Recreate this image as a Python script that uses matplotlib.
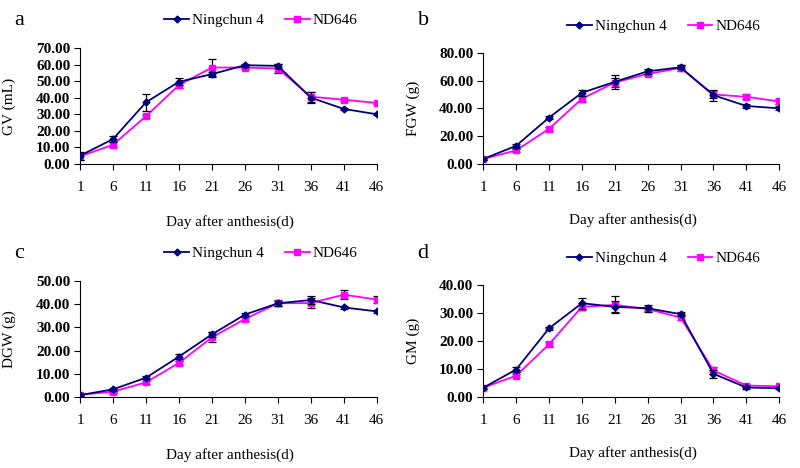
# grain traits after anthesis, 4 panels

import matplotlib.pyplot as plt
from matplotlib.lines import Line2D
import numpy as np

plt.rcParams['font.family'] = ['Liberation Serif', 'DejaVu Serif']
plt.rcParams['font.size'] = 11

days = ["1", "6", "11", "16", "21", "26", "31", "36", "41", "46"]

# a: GV (mL)
gv_ning = [5.0, 15.0, 37.2, 49.6, 54.2, 59.6, 59.2, 40.0, 33.2, 30.0]
gv_nd = [4.6, 11.6, 28.8, 47.6, 58.2, 58.2, 57.6, 40.6, 38.8, 36.8]
gv_ning_err = [2.5, 2.0, 5.0, 2.0, 1.5, 1.0, 1.0, 3.5, 0.8, 0.5]
gv_nd_err = [2.0, 1.5, 1.0, 1.5, 5.0, 1.0, 2.5, 3.0, 0.5, 0.5]

# b: FGW (g)
fgw_ning = [3.6, 13.1, 33.4, 51.3, 59.2, 66.8, 69.7, 49.6, 41.8, 40.1]
fgw_nd = [3.6, 9.8, 25.3, 47.0, 58.7, 64.9, 69.2, 50.1, 48.4, 45.1]
fgw_ning_err = [0.8, 1.5, 1.0, 2.0, 5.0, 1.8, 1.5, 4.0, 1.2, 1.5]
fgw_nd_err = [0.8, 1.2, 1.2, 2.0, 3.0, 1.2, 2.0, 2.5, 1.8, 2.0]

# c: DGW (g)
dgw_ning = [0.8, 3.3, 8.3, 17.4, 27.0, 35.5, 40.4, 41.8, 38.6, 36.9]
dgw_nd = [1.0, 2.3, 6.3, 14.7, 25.7, 33.6, 40.4, 40.5, 44.1, 42.0]
dgw_ning_err = [0.3, 0.5, 0.6, 1.0, 1.2, 0.6, 1.0, 1.8, 0.8, 0.5]
dgw_nd_err = [0.3, 0.5, 0.6, 0.8, 2.2, 0.8, 1.2, 2.0, 1.9, 1.5]

# d: GM (g)
gm_ning = [3.3, 9.8, 24.5, 33.5, 32.2, 31.7, 29.6, 8.3, 3.4, 3.1]
gm_nd = [3.3, 7.6, 18.8, 32.2, 32.9, 31.4, 28.4, 9.5, 4.1, 3.8]
gm_ning_err = [0.5, 1.0, 0.6, 2.0, 2.0, 1.2, 0.6, 1.5, 0.4, 0.3]
gm_nd_err = [0.5, 0.6, 1.0, 1.2, 3.0, 0.8, 0.8, 1.2, 0.4, 0.3]

panels = [
    ("a", "GV (mL)", gv_ning, gv_ning_err, gv_nd, gv_nd_err, 70, 10, [0.100, 0.6496, 0.371, 0.2479]),
    ("b", "FGW (g)", fgw_ning, fgw_ning_err, fgw_nd, fgw_nd_err, 80, 20, [0.604, 0.6496, 0.370, 0.2372]),
    ("c", "DGW (g)", dgw_ning, dgw_ning_err, dgw_nd, dgw_nd_err, 50, 10, [0.100, 0.1517, 0.371, 0.2479]),
    ("d", "GM (g)", gm_ning, gm_ning_err, gm_nd, gm_nd_err, 40, 10, [0.604, 0.1517, 0.370, 0.2393]),
]

navy = "#000080"
pink = "#FF00FF"

fig = plt.figure(figsize=(8, 4.68), dpi=100)
x = np.arange(len(days))

for letter, ylab, y1, e1, y2, e2, ymax, step, pos in panels:
    ax = fig.add_axes(pos)
    ax.errorbar(x, y1, yerr=e1, color=navy, marker="D", markersize=3.5,
                lw=1.3, ecolor="black", elinewidth=0.9, capsize=3, capthick=0.9, zorder=3)
    ax.errorbar(x, y2, yerr=e2, color=pink, marker="s", markersize=4.5,
                lw=1.3, ecolor="black", elinewidth=0.9, capsize=3, capthick=0.9, zorder=2)
    ax.set_xlim(0, len(days) - 1)
    ax.set_ylim(0, ymax)
    ax.set_xticks(x)
    ax.set_xticklabels(days)
    yt = np.arange(0, ymax + 0.1, step)
    ax.set_yticks(yt)
    ax.set_yticklabels(["%.2f" % v for v in yt], fontweight="bold")
    ax.spines["top"].set_visible(False)
    ax.spines["right"].set_visible(False)
    ax.tick_params(axis="x", length=4, pad=8)
    ax.tick_params(axis="y", length=4, pad=3)
    ax.set_xlabel("Day after anthesis(d)", fontsize=11)
    ax.xaxis.set_label_coords(0.505, -0.44)
    ax.set_ylabel(ylab, fontsize=11)
    ax.yaxis.set_label_coords(-0.215, 0.5)
    handles = [Line2D([], [], color=navy, marker="D", markersize=3.5, lw=1.3),
               Line2D([], [], color=pink, marker="s", markersize=4.5, lw=1.3)]
    ax.legend(handles, ["Ningchun 4", "ND646"], loc="center", bbox_to_anchor=(0.61, 1.24),
              ncol=2, frameon=False, handlelength=1.6, columnspacing=1.4,
              fontsize=11, handletextpad=0.2)
    fig.text(pos[0] - 0.082, pos[1] + 0.307, letter, fontsize=16, va="center")

plt.savefig("out.png", dpi=100)
